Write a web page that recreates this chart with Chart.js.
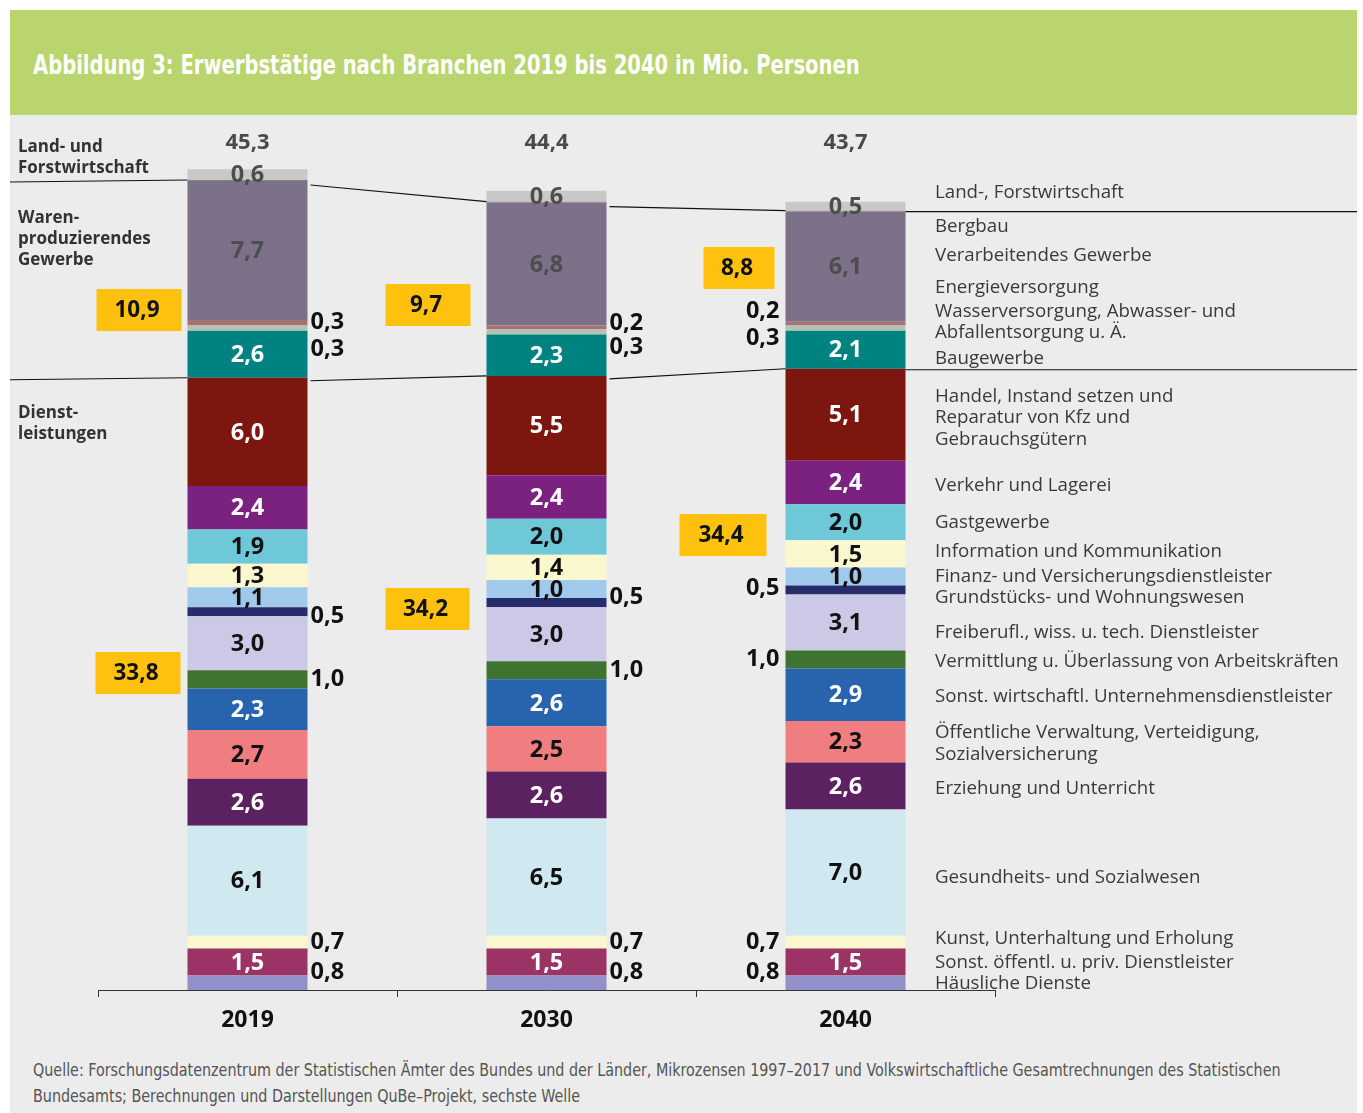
<!DOCTYPE html>
<html>
<head>
<meta charset="utf-8">
<script src="https://cdn.jsdelivr.net/npm/chart.js@4.4.1/dist/chart.umd.min.js"></script>
<style>
  html, body { margin: 0; padding: 0; background: #fff; }
  #page { position: relative; width: 1363px; height: 1113px; overflow: hidden; }
  #panel { position: absolute; left: 10px; top: 115px; width: 1347px; height: 998px; background: #ececec; }
  #head { position: absolute; left: 10px; top: 10px; width: 1347px; height: 105px; background: #bad46e; }
  #title { position: absolute; left: 33px; top: 50px; color: #fff; font: bold 26px "DejaVu Sans Condensed", "DejaVu Sans"; white-space: nowrap; transform: scaleX(0.836); transform-origin: 0 0; }
  #source { position: absolute; left: 33px; top: 1057px; color: #555; font: 17.4px/26px "DejaVu Sans Condensed", "DejaVu Sans"; white-space: nowrap; transform: scaleX(0.915); transform-origin: 0 0; }
  canvas { position: absolute; left: 0; top: 0; }
</style>
</head>
<body>
<div id="page">
  <div id="head"></div>
  <div id="panel"></div>
  <div id="title">Abbildung 3: Erwerbstätige nach Branchen 2019 bis 2040 in Mio. Personen</div>
  <div id="source">Quelle: Forschungsdatenzentrum der Statistischen Ämter des Bundes und der Länder, Mikrozensen 1997–2017 und Volkswirtschaftliche Gesamtrechnungen des Statistischen<br>Bundesamts; Berechnungen und Darstellungen QuBe–Projekt, sechste Welle</div>
  <canvas id="c" width="1363" height="1113"></canvas>
</div>
<script>
// Jahre und Branchen (von unten nach oben gestapelt)
const years = ['2019', '2030', '2040']
const branches = [
  ['Häusliche Dienste'],
  ['Sonst. öffentl. u. priv. Dienstleister'],
  ['Kunst, Unterhaltung und Erholung'],
  ['Gesundheits- und Sozialwesen'],
  ['Erziehung und Unterricht'],
  ['Öffentliche Verwaltung, Verteidigung,', 'Sozialversicherung'],
  ['Sonst. wirtschaftl. Unternehmensdienstleister'],
  ['Vermittlung u. Überlassung von Arbeitskräften'],
  ['Freiberufl., wiss. u. tech. Dienstleister'],
  ['Grundstücks- und Wohnungswesen'],
  ['Finanz- und Versicherungsdienstleister'],
  ['Information und Kommunikation'],
  ['Gastgewerbe'],
  ['Verkehr und Lagerei'],
  ['Handel, Instand setzen und', 'Reparatur von Kfz und', 'Gebrauchsgütern'],
  ['Baugewerbe'],
  ['Wasserversorgung, Abwasser- und', 'Abfallentsorgung u. Ä.'],
  ['Energieversorgung'],
  ['Verarbeitendes Gewerbe'],
  ['Bergbau'],
  ['Land-, Forstwirtschaft']
]
const v2019 = [0.8, 1.5, 0.7, 6.1, 2.6, 2.7, 2.3, 1.0, 3.0, 0.5, 1.1, 1.3, 1.9, 2.4, 6.0, 2.6, 0.3, 0.3, 7.7, 0.05, 0.6]
const v2030 = [0.8, 1.5, 0.7, 6.5, 2.6, 2.5, 2.6, 1.0, 3.0, 0.5, 1.0, 1.4, 2.0, 2.4, 5.5, 2.3, 0.3, 0.2, 6.8, 0.05, 0.6]
const v2040 = [0.8, 1.5, 0.7, 7.0, 2.6, 2.3, 2.9, 1.0, 3.1, 0.5, 1.0, 1.5, 2.0, 2.4, 5.1, 2.1, 0.3, 0.2, 6.1, 0.05, 0.5]
const totals = [45.3, 44.4, 43.7]
const goodsTotals = [10.9, 9.7, 8.8]
const servicesTotals = [33.8, 34.2, 34.4]
const groupNames = [['Land- und', 'Forstwirtschaft'], ['Waren-', 'produzierendes', 'Gewerbe'], ['Dienst-', 'leistungen']]

const colors = ['#9190c8', '#9b3464', '#fbf7cf', '#d0e9f0', '#5c2160', '#f07d80', '#2863ad', '#3f7430', '#ccc9e6', '#262b6b',
  '#a0c9ec', '#fbf7cf', '#6ec8d8', '#7b2281', '#7e1610', '#008380', '#b5c4b2', '#a87272', '#7d7089', '#8a7c96', '#c8c8c6']
const textColors = ['#111', '#fff', '#111', '#111', '#fff', '#111', '#fff', '#111', '#111', '#111',
  '#111', '#111', '#111', '#fff', '#fff', '#fff', '#111', '#111', '#4d4d4d', null, '#4d4d4d']
// Werte neben dem Balken statt darin (Verschiebung in px je Jahr)
const outside = { 0: [-10, -10, -10], 2: [0, 0, 0], 7: [0, 0, 0], 9: [5, -5, -2], 16: [21, 16, 10], 17: [0, -4, -12] }
// Verschiebung der Beschriftung rechts gegenüber der Segmentmitte 2040 (px)
const rightNudge = [1, 1, -3, 5, 3, 2, 2, 2, 10, 8, 0, -2, 0, 3, 3, 9, -6, -36, -11, 16, -14]
// Kästen mit Summen: Mitte in Werteinheiten, Abstand zum Balken, Breite
const goodsBox = [[37.65, 6, 85], [37.93, 16, 85], [39.98, 11, 71]]
const servicesBox = [[17.55, 7, 85], [21.1, 17, 84], [25.19, 19, 87]]

const FONT = '"Open Sans", "Noto Sans", sans-serif'
const fmt = v => v.toFixed(1).replace('.', ',')
const sumTo = (arr, n) => arr.slice(0, n + 1).reduce((a, b) => a + b, 0)
const series = [v2019, v2030, v2040]

const overlay = {
  id: 'overlay',
  afterDatasetsDraw(chart) {
    const ctx = chart.ctx
    const ys = chart.scales.y, xs = chart.scales.x
    const area = chart.chartArea
    ctx.save()
    ctx.textBaseline = 'middle'

    // Trennlinien zwischen den Wirtschaftsbereichen
    const lineAt = (idx, off) => {
      const pts = []
      chart.getDatasetMeta(idx).data.forEach((el, i) => {
        const y = ys.getPixelForValue(sumTo(series[i], idx))
        const half = el.width / 2
        pts.push([el.x - half, y], [el.x + half, y])
      })
      ctx.beginPath()
      ctx.moveTo(10, pts[0][1] + 2)
      ctx.lineTo(pts[0][0], pts[0][1])
      for (let k = 1; k < pts.length - 1; k += 2) {
        ctx.moveTo(pts[k][0] + 3, pts[k][1] + off)
        ctx.lineTo(pts[k + 1][0], pts[k + 1][1])
      }
      const last = pts[pts.length - 1]
      ctx.moveTo(last[0], last[1] + 1)
      ctx.lineTo(1357, last[1] + 1)
      ctx.stroke()
    }
    ctx.strokeStyle = '#111'
    ctx.lineWidth = 1.2
    lineAt(19, 5)
    lineAt(14, 3)

    // Werte in den Segmenten
    chart.data.datasets.forEach((ds, di) => {
      if (!textColors[di]) return
      chart.getDatasetMeta(di).data.forEach((el, i) => {
        const cy = (el.y + el.base) / 2
        const txt = fmt(ds.data[i])
        ctx.font = 'bold 23.5px ' + FONT
        if (outside[di]) {
          ctx.fillStyle = '#111'
          if (i === 2) { ctx.textAlign = 'right'; ctx.fillText(txt, el.x - el.width / 2 - 6, cy + outside[di][i]) }
          else { ctx.textAlign = 'left'; ctx.fillText(txt, el.x + el.width / 2 + 3, cy + outside[di][i]) }
        } else {
          ctx.fillStyle = textColors[di]
          ctx.textAlign = 'center'
          ctx.fillText(txt, el.x, cy + 1)
        }
      })
    })

    // Gesamtsummen oben
    ctx.textAlign = 'center'
    ctx.fillStyle = '#4a4a4a'
    ctx.font = 'bold 22px ' + FONT
    totals.forEach((t, i) => ctx.fillText(fmt(t), xs.getPixelForValue(i), area.top + 25))

    // Summen der Bereiche in gelben Kästen
    const box = (val, lay, i) => {
      const el = chart.getDatasetMeta(0).data[i]
      const right = el.x - el.width / 2 - lay[1]
      const cy = ys.getPixelForValue(lay[0])
      ctx.fillStyle = '#fdc10e'
      ctx.fillRect(right - lay[2], cy - 21, lay[2], 42)
      ctx.fillStyle = '#111'
      ctx.font = 'bold 22.5px ' + FONT
      ctx.textAlign = 'center'
      ctx.fillText(fmt(val), right - lay[2] / 2 - 2, cy + 1)
    }
    goodsTotals.forEach((v, i) => box(v, goodsBox[i], i))
    servicesTotals.forEach((v, i) => box(v, servicesBox[i], i))

    // Branchennamen rechts
    ctx.textAlign = 'left'
    ctx.fillStyle = '#3a3a3a'
    ctx.font = '18.7px ' + FONT
    const lh = 21.5
    branches.forEach((lines, di) => {
      const el = chart.getDatasetMeta(di).data[2]
      const cy = (el.y + el.base) / 2 + rightNudge[di]
      lines.forEach((ln, k) => ctx.fillText(ln, area.right - 60, cy + (k - (lines.length - 1) / 2) * lh))
    })

    // Bereichsnamen links
    ctx.fillStyle = '#333'
    ctx.font = 'bold 17px ' + FONT
    const groupTop = [147, 218, 413]
    groupNames.forEach((lines, g) => lines.forEach((ln, k) => ctx.fillText(ln, 18, groupTop[g] + k * 21)))

    // x-Achse
    ctx.strokeStyle = '#333'
    ctx.lineWidth = 1
    ctx.beginPath()
    ctx.moveTo(area.left, area.bottom + 0.5)
    ctx.lineTo(area.right, area.bottom + 0.5)
    const step = (area.right - area.left) / years.length
    for (let k = 0; k <= years.length; k++) {
      const x = Math.round(area.left + k * step) + 0.5
      ctx.moveTo(x, area.bottom)
      ctx.lineTo(x, area.bottom + 7)
    }
    ctx.stroke()
    ctx.fillStyle = '#111'
    ctx.font = 'bold 23px ' + FONT
    ctx.textAlign = 'center'
    years.forEach((y, i) => ctx.fillText(y, xs.getPixelForValue(i), area.bottom + 30))
    ctx.restore()
  }
}

new Chart(document.getElementById('c'), {
  type: 'bar',
  data: {
    labels: years,
    datasets: branches.map((b, di) => ({
      label: b.join(' '),
      data: [v2019[di], v2030[di], v2040[di]],
      backgroundColor: colors[di],
      borderWidth: 0,
      barPercentage: 120 / 299,
      categoryPercentage: 1
    }))
  },
  options: {
    responsive: false,
    devicePixelRatio: 1,
    animation: false,
    layout: { padding: { left: 98, right: 368, top: 117.7, bottom: 123 } },
    plugins: { legend: { display: false }, title: { display: false }, tooltip: { enabled: false } },
    scales: {
      x: { stacked: true, display: false },
      y: { stacked: true, display: false, min: 0, max: 48.3 }
    }
  },
  plugins: [overlay]
})
</script>
</body>
</html>
